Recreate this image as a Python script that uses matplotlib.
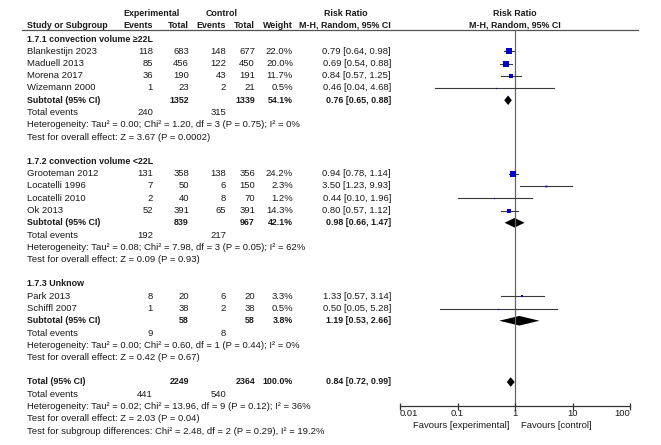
import numpy as np
import matplotlib
matplotlib.use('Agg')
import matplotlib.pyplot as plt

# Dados dos estudos
study = ['Blankestijn 2023', 'Maduell 2013', 'Morena 2017', 'Wizemann 2000',
         'Grooteman 2012', 'Locatelli 1996', 'Locatelli 2010', 'Ok 2013',
         'Park 2013', 'Schiffl 2007']
group = [0, 0, 0, 0, 1, 1, 1, 1, 2, 2]
exp_ev = [118, 85, 36, 1, 131, 7, 2, 52, 8, 1]
exp_n = [683, 456, 190, 23, 358, 50, 40, 391, 20, 38]
ctl_ev = [148, 122, 43, 2, 138, 6, 8, 65, 6, 2]
ctl_n = [677, 450, 191, 21, 356, 150, 70, 391, 20, 38]
weight = [22.0, 20.0, 11.7, 0.5, 24.2, 2.3, 1.2, 14.3, 3.3, 0.5]
rr = [0.79, 0.69, 0.84, 0.46, 0.94, 3.50, 0.44, 0.80, 1.33, 0.50]
rr_lo = [0.64, 0.54, 0.57, 0.04, 0.78, 1.23, 0.10, 0.57, 0.57, 0.05]
rr_hi = [0.98, 0.88, 1.25, 4.68, 1.14, 9.93, 1.96, 1.12, 3.14, 5.28]

# Subgrupos
sub_title = ['1.7.1 convection volume \u226522L', '1.7.2 convection volume <22L',
             '1.7.3 Unknow']
sub_exp_n = [1352, 839, 58]
sub_ctl_n = [1339, 967, 58]
sub_exp_ev = [240, 192, 9]
sub_ctl_ev = [315, 217, 8]
sub_weight = [54.1, 42.1, 3.8]
sub_rr = [0.76, 0.98, 1.19]
sub_lo = [0.65, 0.66, 0.53]
sub_hi = [0.88, 1.47, 2.66]
sub_het = ['Heterogeneity: Tau\u00b2 = 0.00; Chi\u00b2 = 1.20, df = 3 (P = 0.75); I\u00b2 = 0%',
           'Heterogeneity: Tau\u00b2 = 0.08; Chi\u00b2 = 7.98, df = 3 (P = 0.05); I\u00b2 = 62%',
           'Heterogeneity: Tau\u00b2 = 0.00; Chi\u00b2 = 0.60, df = 1 (P = 0.44); I\u00b2 = 0%']
sub_test = ['Test for overall effect: Z = 3.67 (P = 0.0002)',
            'Test for overall effect: Z = 0.09 (P = 0.93)',
            'Test for overall effect: Z = 0.42 (P = 0.67)']

# Total
tot_exp_n, tot_ctl_n = 2249, 2364
tot_exp_ev, tot_ctl_ev = 441, 540
tot_rr, tot_lo, tot_hi = 0.84, 0.72, 0.99
tot_lines = ['Heterogeneity: Tau\u00b2 = 0.02; Chi\u00b2 = 13.96, df = 9 (P = 0.12); I\u00b2 = 36%',
             'Test for overall effect: Z = 2.03 (P = 0.04)',
             'Test for subgroup differences: Chi\u00b2 = 2.48, df = 2 (P = 0.29), I\u00b2 = 19.2%']

ticks = [0.01, 0.1, 1, 10, 100]
tick_labels = ['0.01', '0.1', '1', '10', '100']

plt.rcParams['font.family'] = ['Liberation Sans', 'DejaVu Sans']
FS = 6.8
FSB = 6.4
TXT = '#1a1a1a'

W, H = 661, 445
fig = plt.figure(figsize=(W / 100, H / 100), dpi=100)
fig.patch.set_facecolor('white')

# Eixo para o texto (coordenadas em pixels)
at = fig.add_axes([0, 0, 1, 1])
at.set_xlim(0, W)
at.set_ylim(H, 0)
at.axis('off')

# Eixo do gráfico de floresta (escala log)
af = fig.add_axes([400 / W, 0, 230 / W, 1])
af.set_xscale('log')
af.set_xlim(0.01, 100)
af.set_ylim(H, 0)
af.axis('off')

X0 = 27
C_EE, C_EN, C_CE, C_CN, C_W, C_RR = 153, 189, 226, 255, 293, 391


def row_y(r):
    return 39 + 12.25 * r


def txt(x, y, s, ha='left', bold=False):
    at.text(x, y, s, ha=ha, va='center', fontsize=FSB if bold else FS,
            color=TXT, fontweight='bold' if bold else 'normal')


def ci_text(e, l, h):
    return f'{e:.2f} [{l:.2f}, {h:.2f}]'


def diamond(y, e, l, h, hh=4.8):
    af.fill([l, e, h, e], [y, y - hh, y, y + hh], color='black', lw=0)


# Cabeçalho
txt(152, 14, 'Experimental', ha='center', bold=True)
txt(222, 14, 'Control', ha='center', bold=True)
txt(346, 14, 'Risk Ratio', ha='center', bold=True)
txt(X0, 25, 'Study or Subgroup', bold=True)
txt(C_EE, 25, 'Events', ha='right', bold=True)
txt(C_EN, 25, 'Total', ha='right', bold=True)
txt(C_CE, 25, 'Events', ha='right', bold=True)
txt(C_CN, 25, 'Total', ha='right', bold=True)
txt(C_W, 25, 'Weight', ha='right', bold=True)
txt(C_RR, 25, 'M-H, Random, 95% CI', ha='right', bold=True)
af.text(1, 14, 'Risk Ratio', ha='center', va='center', fontsize=FSB,
        color=TXT, fontweight='bold')
af.text(1, 25, 'M-H, Random, 95% CI', ha='center', va='center', fontsize=FSB,
        color=TXT, fontweight='bold')
at.plot([22, 638], [30, 30], color='#555555', lw=0.9)

# Linha vertical de nulidade
af.plot([1, 1], [30, 406], color='#666666', lw=0.9)

for g in range(3):
    r = g * 10
    txt(X0, row_y(r), sub_title[g], bold=True)
    idx = [i for i in range(len(study)) if group[i] == g]
    for k, i in enumerate(idx):
        y = row_y(r + 1 + k)
        txt(X0, y, study[i])
        txt(C_EE, y, str(exp_ev[i]), ha='right')
        txt(C_EN, y, str(exp_n[i]), ha='right')
        txt(C_CE, y, str(ctl_ev[i]), ha='right')
        txt(C_CN, y, str(ctl_n[i]), ha='right')
        txt(C_W, y, f'{weight[i]:.1f}%', ha='right')
        txt(C_RR, y, ci_text(rr[i], rr_lo[i], rr_hi[i]), ha='right')
        af.plot([rr_lo[i], rr_hi[i]], [y, y], color='#3a3a3a', lw=0.8)
        side = max(1.15 * np.sqrt(weight[i]), 1.2) * 0.72
        af.plot(rr[i], y, marker='s', ms=side, color='#0000c8', mew=0)
    rs = r + 1 + len(idx)
    y = row_y(rs)
    txt(X0, y, 'Subtotal (95% CI)', bold=True)
    txt(C_EN, y, str(sub_exp_n[g]), ha='right', bold=True)
    txt(C_CN, y, str(sub_ctl_n[g]), ha='right', bold=True)
    txt(C_W, y, f'{sub_weight[g]:.1f}%', ha='right', bold=True)
    txt(C_RR, y, ci_text(sub_rr[g], sub_lo[g], sub_hi[g]), ha='right', bold=True)
    diamond(y, sub_rr[g], sub_lo[g], sub_hi[g])
    y = row_y(rs + 1)
    txt(X0, y, 'Total events')
    txt(C_EE, y, str(sub_exp_ev[g]), ha='right')
    txt(C_CE, y, str(sub_ctl_ev[g]), ha='right')
    txt(X0, row_y(rs + 2), sub_het[g])
    txt(X0, row_y(rs + 3), sub_test[g])

# Total geral
y = row_y(28)
txt(X0, y, 'Total (95% CI)', bold=True)
txt(C_EN, y, str(tot_exp_n), ha='right', bold=True)
txt(C_CN, y, str(tot_ctl_n), ha='right', bold=True)
txt(C_W, y, '100.0%', ha='right', bold=True)
txt(C_RR, y, ci_text(tot_rr, tot_lo, tot_hi), ha='right', bold=True)
diamond(y, tot_rr, tot_lo, tot_hi)
y = row_y(29)
txt(X0, y, 'Total events')
txt(C_EE, y, str(tot_exp_ev), ha='right')
txt(C_CE, y, str(tot_ctl_ev), ha='right')
for k, s in enumerate(tot_lines):
    txt(X0, row_y(30 + k), s)

# Eixo x
AY = 406
af.plot([0.01, 100], [AY, AY], color='#333333', lw=0.9, clip_on=False)
af.vlines(ticks, AY - 3.5, AY + 3.5, color='#333333', lw=0.9, clip_on=False)
for t, lab in zip(ticks, tick_labels):
    ha = 'left' if t == ticks[0] else ('right' if t == ticks[-1] else 'center')
    af.text(t, 414, lab, ha=ha, va='center', fontsize=FS, color=TXT)
af.text(0.8, 426, 'Favours [experimental]', ha='right', va='center',
        fontsize=FS, color=TXT)
af.text(1.25, 426, 'Favours [control]', ha='left', va='center',
        fontsize=FS, color=TXT)

fig.savefig('out.png', dpi=100)
